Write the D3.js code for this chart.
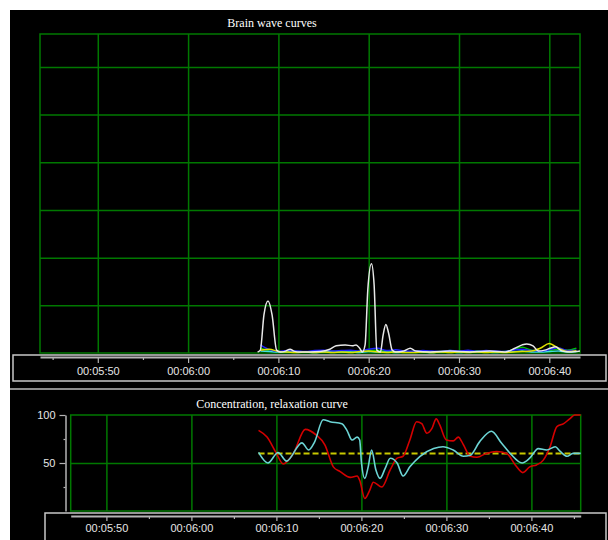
<!DOCTYPE html>
<html><head><meta charset="utf-8">
<script src="https://cdn.jsdelivr.net/npm/d3@7"></script>
<style>
html,body{margin:0;padding:0;background:#fff;}
svg{display:block;}
</style></head>
<body>
<svg id="c" width="608" height="540"></svg>
<script>
// ---------- DATA ----------
const topTitle = "Brain wave curves";
const bottomTitle = "Concentration, relaxation curve";
const majorTicks = [350, 360, 370, 380, 390, 400];           // seconds
const minorTicks = [345, 355, 365, 375, 385, 395, 405];
const yTicksBottom = [100, 50];
const yMinorBottom = [75, 25];

// Brain wave curves (top) – white curve
const whiteT = [367.7,368.0,368.4,368.85,369.3,369.8,370.2,370.8,371.3,371.7,372.4,373.5,374.6,375.7,376.4,377.4,378.2,378.6,379.0,379.3,379.6,379.9,380.3,380.6,380.9,381.3,381.6,381.9,382.2,382.6,383.0,383.9,384.6,385.2,386.8,389.0,391.2,393.4,395.1,396.2,397.0,397.5,398.2,398.8,399.5,400.1,400.7,401.4,402.3,403.4];
const whiteV = [0.02,0.06,0.8,1.09,0.8,0.06,0.02,0.04,0.08,0.04,0.02,0.02,0.03,0.08,0.15,0.17,0.15,0.17,0.1,0.02,0.17,1.32,1.87,1.43,0.06,0.02,0.38,0.6,0.42,0.06,0.02,0.04,0.1,0.04,0.02,0.04,0.02,0.04,0.02,0.1,0.17,0.19,0.15,0.04,0.06,0.1,0.13,0.04,0.02,0.04];
// small wave bands (one value per second, 368..403)
const bandT = [368,369,370,371,372,373,374,375,376,377,378,379,380,381,382,383,384,385,386,387,388,389,390,391,392,393,394,395,396,397,398,399,400,401,402,403];
const blueV   = [0.17,0.07,0.03,0.05,0.04,0.03,0.05,0.06,0.04,0.05,0.06,0.04,0.08,0.1,0.05,0.07,0.04,0.03,0.05,0.04,0.03,0.05,0.04,0.06,0.03,0.05,0.04,0.03,0.06,0.08,0.05,0.04,0.07,0.11,0.05,0.06];
const greenV  = [0.1,0.05,0.02,0.03,0.02,0.02,0.03,0.04,0.03,0.03,0.04,0.03,0.05,0.06,0.04,0.03,0.02,0.03,0.04,0.02,0.03,0.05,0.03,0.02,0.04,0.03,0.02,0.03,0.07,0.12,0.06,0.03,0.05,0.08,0.06,0.1];
const yellowV = [0.06,0.08,0.03,0.02,0.01,0.02,0.01,0.02,0.01,0.02,0.01,0.03,0.04,0.02,0.01,0.02,0.01,0.01,0.02,0.01,0.02,0.01,0.02,0.01,0.02,0.01,0.02,0.01,0.02,0.03,0.04,0.1,0.2,0.1,0.03,0.05];
const cyanV   = [0.04,0.03,0.02,0.02,0.03,0.02,0.01,0.02,0.03,0.02,0.02,0.01,0.03,0.02,0.02,0.01,0.02,0.03,0.02,0.01,0.02,0.02,0.01,0.02,0.03,0.02,0.01,0.02,0.03,0.04,0.02,0.02,0.03,0.04,0.02,0.03];

// Concentration / relaxation (bottom)
const redT = [367.9,368.9,370.0,370.8,372.0,373.4,374.7,375.7,376.7,377.5,378.7,379.5,379.8,380.4,381.0,381.4,382.4,383.4,384.2,384.9,385.7,386.5,387.1,387.7,388.3,388.8,389.2,390.0,390.8,391.4,392.0,392.8,393.6,394.7,395.9,397.1,398.1,399.0,399.8,400.6,401.4,402.2,403.0,403.8,404.5,405.1,405.8];
const redV = [84,77,60,49,60,85,79,69,46,41,35,36.5,32,13,22,30,25,43,55,57,74,93,91,81,86,96,90,74,73,77,69,57,56,60,62,60,48,40,46,48,53,67,88,91,96,100,100];
const cyanT = [367.9,369.0,370.2,371.2,373.0,373.8,374.5,375.5,376.3,377.7,378.3,378.9,379.5,379.8,380.0,380.4,380.8,381.2,381.7,382.2,382.8,383.4,384.2,384.9,385.7,386.9,388.5,389.6,390.8,392.0,392.8,393.9,395.3,396.5,397.5,398.9,399.8,400.8,401.8,402.8,403.4,404.2,404.9,405.8];
const cyanLineV = [61,50,61,52,71,63.5,72,95,93,91,84,74,77,74,51,34,46,63.5,43,34,44.5,55,50,36.5,46,57,65,67,63.5,57,58,72,83,70.5,60,50,55,65,63.5,67,62,57,60,60];
const baseT = [367.9, 405.8];
const baseV = [60, 60];

// ---------- DRAW ----------
const svg = d3.select("#c");
const fmt = s => { const m = Math.floor(s/60), ss = s%60; return "00:" + String(m).padStart(2,"0") + ":" + String(ss).padStart(2,"0"); };

svg.append("rect").attr("x",10).attr("y",10).attr("width",598).attr("height",530).attr("fill","#000");

const gridColor = "#007800";
const axisColor = "#b4b4b4";
const textColor = "#e6e6e6";

// ===== TOP CHART =====
const tx = d3.scaleLinear().domain([343.6, 403.4]).range([40, 580]);
const ty = d3.scaleLinear().domain([0, 6.69]).range([353, 34]);

svg.append("text").attr("x",272).attr("y",27).attr("text-anchor","middle")
  .attr("font-family","'Liberation Serif', 'Times New Roman', serif").attr("font-size",12).attr("fill","#fff").text(topTitle);

const tGrid = svg.append("g");
tGrid.append("g").attr("transform","translate(0,353)")
  .call(d3.axisBottom(tx).tickValues(majorTicks).tickSize(-(353-34)).tickFormat(""))
  .call(g=>{g.select(".domain").remove(); g.selectAll("line").attr("stroke",gridColor).attr("stroke-width",1.5);});
tGrid.append("g").attr("transform","translate(40,0)")
  .call(d3.axisLeft(ty).tickValues([1,2,3,4,5,6]).tickSize(-(580-40)).tickFormat(""))
  .call(g=>{g.select(".domain").remove(); g.selectAll("line").attr("stroke",gridColor).attr("stroke-width",1.5);});
tGrid.append("rect").attr("x",40).attr("y",34).attr("width",540).attr("height",319)
  .attr("fill","none").attr("stroke",gridColor).attr("stroke-width",1.5);

svg.append("clipPath").attr("id","clipTop").append("rect").attr("x",40).attr("y",34).attr("width",541).attr("height",320);
const topLines = svg.append("g").attr("clip-path","url(#clipTop)");
const tLine = d3.line().x(d=>tx(d[0])).y(d=>ty(d[1])).curve(d3.curveMonotoneX);
const bands = [
  {v: greenV, c:"#00c000"},
  {v: cyanV, c:"#40e0e0"},
  {v: blueV, c:"#2020ff"},
  {v: yellowV, c:"#e0e000"}
];
bands.forEach(b=>{
  topLines.append("path").attr("d", tLine(d3.zip(bandT, b.v)))
    .attr("fill","none").attr("stroke",b.c).attr("stroke-width",1.5);
});
topLines.append("path").attr("d", tLine(d3.zip(whiteT, whiteV)))
  .attr("fill","none").attr("stroke","#e8e8e8").attr("stroke-width",1.5);

// top x-axis box
svg.append("rect").attr("x",13).attr("y",355).attr("width",593).attr("height",26)
  .attr("fill","none").attr("stroke","#c8c8c8").attr("stroke-width",1.5);
const tAxis = svg.append("g").attr("transform","translate(0,357)");
tAxis.call(d3.axisBottom(tx).tickValues(majorTicks).tickSize(6).tickSizeOuter(0).tickPadding(4).tickFormat(fmt))
  .call(g=>{
    g.select(".domain").attr("stroke",axisColor).attr("stroke-width",2);
    g.selectAll("line").attr("stroke",axisColor).attr("stroke-width",1.2);
    g.selectAll("text").attr("fill",textColor).attr("font-family","'Liberation Sans', Arial, sans-serif").attr("font-size",11);
  });
svg.append("g").attr("transform","translate(0,357)")
  .call(d3.axisBottom(tx).tickValues(minorTicks.filter(t=>t>=343.6 && t<=403.4)).tickSize(3).tickFormat(""))
  .call(g=>{g.select(".domain").remove(); g.selectAll("line").attr("stroke",axisColor).attr("stroke-width",1.2);});

// separator
svg.append("line").attr("x1",10).attr("x2",608).attr("y1",389).attr("y2",389).attr("stroke","#8c8c8c").attr("stroke-width",2);

// ===== BOTTOM CHART =====
const bx = d3.scaleLinear().domain([345.8, 405.8]).range([70.7, 580.7]);
const by = d3.scaleLinear().domain([0, 100]).range([511, 415]);

svg.append("text").attr("x",272).attr("y",408).attr("text-anchor","middle")
  .attr("font-family","'Liberation Serif', 'Times New Roman', serif").attr("font-size",12).attr("fill","#fff").text(bottomTitle);

const bGrid = svg.append("g");
bGrid.append("g").attr("transform","translate(0,511)")
  .call(d3.axisBottom(bx).tickValues(majorTicks).tickSize(-(511-415)).tickFormat(""))
  .call(g=>{g.select(".domain").remove(); g.selectAll("line").attr("stroke",gridColor).attr("stroke-width",1.5);});
bGrid.append("g").attr("transform","translate(70.7,0)")
  .call(d3.axisLeft(by).tickValues([50]).tickSize(-510).tickFormat(""))
  .call(g=>{g.select(".domain").remove(); g.selectAll("line").attr("stroke",gridColor).attr("stroke-width",1.5);});
bGrid.append("rect").attr("x",70.7).attr("y",415).attr("width",510).attr("height",96)
  .attr("fill","none").attr("stroke",gridColor).attr("stroke-width",1.5);

// y axis
svg.append("g").attr("transform","translate(65.5,0)")
  .call(d3.axisLeft(by).tickValues(yTicksBottom).tickSize(6).tickSizeOuter(0).tickPadding(4))
  .call(g=>{
    g.select(".domain").attr("stroke",axisColor).attr("stroke-width",1.5);
    g.selectAll("line").attr("stroke",axisColor).attr("stroke-width",1.2);
    g.selectAll("text").attr("fill",textColor).attr("font-family","'Liberation Sans', Arial, sans-serif").attr("font-size",11);
  });
svg.append("g").attr("transform","translate(65.5,0)")
  .call(d3.axisLeft(by).tickValues(yMinorBottom).tickSize(2).tickFormat(""))
  .call(g=>{g.select(".domain").remove(); g.selectAll("line").attr("stroke",axisColor).attr("stroke-width",1.2);});

svg.append("clipPath").attr("id","clipBot").append("rect").attr("x",70).attr("y",413).attr("width",512).attr("height",99);
const botLines = svg.append("g").attr("clip-path","url(#clipBot)");
const bLine = d3.line().x(d=>bx(d[0])).y(d=>by(d[1])).curve(d3.curveMonotoneX);
botLines.append("path").attr("d", bLine(d3.zip(baseT, baseV)))
  .attr("fill","none").attr("stroke","#c8c800").attr("stroke-width",2).attr("stroke-dasharray","6,3");
botLines.append("path").attr("d", bLine(d3.zip(redT, redV)))
  .attr("fill","none").attr("stroke","#d40000").attr("stroke-width",1.6);
botLines.append("path").attr("d", bLine(d3.zip(cyanT, cyanLineV)))
  .attr("fill","none").attr("stroke","#6cd4d4").attr("stroke-width",1.6);

// bottom x-axis box
svg.append("rect").attr("x",45).attr("y",513).attr("width",561).attr("height",40)
  .attr("fill","none").attr("stroke","#c8c8c8").attr("stroke-width",1.5);
svg.append("g").attr("transform","translate(0,516)")
  .call(d3.axisBottom(bx).tickValues(majorTicks).tickSize(5).tickSizeOuter(0).tickPadding(3).tickFormat(fmt))
  .call(g=>{
    g.select(".domain").attr("stroke",axisColor).attr("stroke-width",2);
    g.selectAll("line").attr("stroke",axisColor).attr("stroke-width",1.2);
    g.selectAll("text").attr("fill",textColor).attr("font-family","'Liberation Sans', Arial, sans-serif").attr("font-size",11);
  });
svg.append("g").attr("transform","translate(0,516)")
  .call(d3.axisBottom(bx).tickValues(minorTicks.filter(t=>t>=345.8 && t<=405.8)).tickSize(3).tickFormat(""))
  .call(g=>{g.select(".domain").remove(); g.selectAll("line").attr("stroke",axisColor).attr("stroke-width",1.2);});
</script>
</body></html>
